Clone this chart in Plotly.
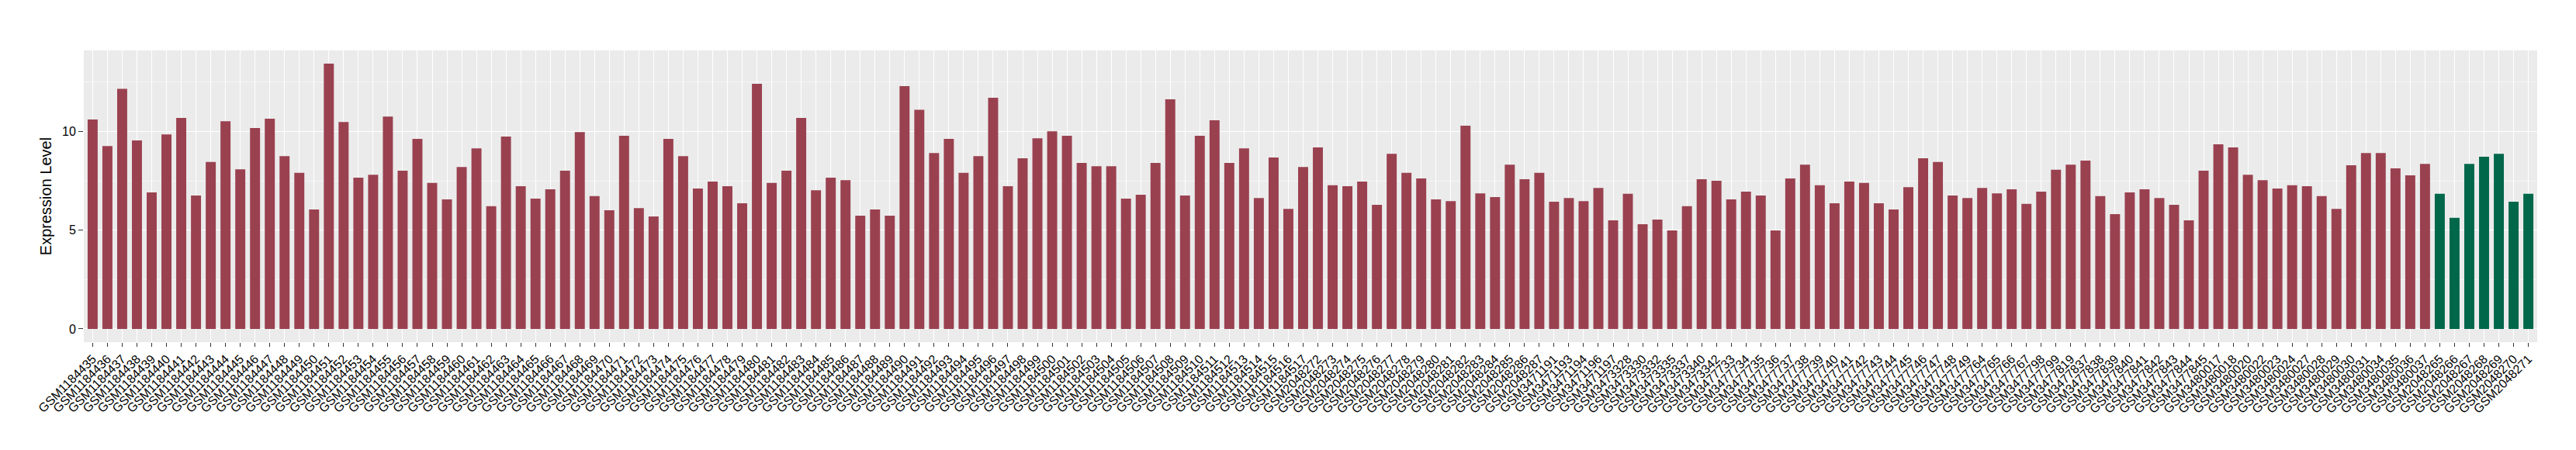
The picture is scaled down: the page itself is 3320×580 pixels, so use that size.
import plotly.graph_objects as go

samples_a = [f"GSM{n}" for n in range(1184435, 1184518)]
samples_b = [f"GSM{n}" for n in range(2048272, 2048288)]
samples_c = ["GSM3471191", "GSM3471193", "GSM3471194", "GSM3471196", "GSM3471197",
             "GSM3473328", "GSM3473330", "GSM3473332", "GSM3473335", "GSM3473337",
             "GSM3473340", "GSM3473342"]
samples_d = [f"GSM{n}" for n in range(3477733, 3477750)] + \
            ["GSM3477764", "GSM3477765", "GSM3477766", "GSM3477767", "GSM3477798",
             "GSM3477799", "GSM3477819"] + [f"GSM{n}" for n in range(3477837, 3477846)]
samples_e = ["GSM3480017", "GSM3480018", "GSM3480020", "GSM3480022", "GSM3480023",
             "GSM3480024", "GSM3480027", "GSM3480028", "GSM3480029", "GSM3480030",
             "GSM3480031", "GSM3480034", "GSM3480035", "GSM3480036", "GSM3480037"]
samples_ctrl = [f"GSM{n}" for n in range(2048265, 2048272)]

values_a = [10.60, 9.26, 12.16, 9.54, 6.91, 9.85, 10.68, 6.75, 8.45, 10.52,
            8.08, 10.17, 10.64, 8.75, 7.90, 6.05, 13.43, 10.48, 7.66, 7.81,
            10.75, 8.01, 9.62, 7.39, 6.56, 8.20, 9.14, 6.21, 9.74, 7.23,
            6.60, 7.07, 8.01, 9.97, 6.72, 6.01, 9.78, 6.12, 5.69, 9.62,
            8.75, 7.11, 7.46, 7.23, 6.36, 12.41, 7.39, 8.01, 10.68, 7.02,
            7.66, 7.53, 5.73, 6.05, 5.73, 12.29, 11.10, 8.91, 9.62, 7.90,
            8.75, 11.70, 7.23, 8.64, 9.65, 10.01, 9.78, 8.40, 8.24, 8.24,
            6.60, 6.79, 8.40, 11.63, 6.75, 9.78, 10.57, 8.40, 9.14, 6.63,
            8.68, 6.08, 8.20]
values_b = [9.19, 7.27, 7.23, 7.46, 6.28, 8.87, 7.90, 7.62, 6.56, 6.47,
            10.29, 6.86, 6.68, 8.32, 7.58, 7.90]
values_c = [6.44, 6.63, 6.47, 7.14, 5.50, 6.84, 5.30, 5.54, 4.99, 6.21, 7.58, 7.50]
values_d = [6.56, 6.95, 6.75, 4.99, 7.62, 8.32, 7.27, 6.36, 7.46, 7.39,
            6.36, 6.05, 7.18, 8.64, 8.45, 6.75, 6.63,
            7.14, 6.86, 7.07, 6.33, 6.95, 8.06, 8.32,
            8.52, 6.72, 5.81, 6.91, 7.07, 6.63, 6.28, 5.50, 8.01]
values_e = [9.35, 9.19, 7.81, 7.53, 7.11, 7.27, 7.23, 6.72, 6.08, 8.29,
            8.91, 8.91, 8.13, 7.78, 8.36]
values_ctrl = [6.84, 5.62, 8.36, 8.72, 8.87, 6.44, 6.84]

case_samples = samples_a + samples_b + samples_c + samples_d + samples_e
case_values = values_a + values_b + values_c + values_d + values_e

RED = "#9A4150"
GREEN = "#00674A"

categories = case_samples + samples_ctrl
vmax = max(case_values + values_ctrl)

fig = go.Figure()
fig.add_trace(go.Bar(x=case_samples, y=case_values, marker=dict(color=RED, line=dict(width=0)),
                     width=0.68, showlegend=False))
fig.add_trace(go.Bar(x=samples_ctrl, y=values_ctrl, marker=dict(color=GREEN, line=dict(width=0)),
                     width=0.68, showlegend=False))

fig.update_layout(
    width=3320, height=580,
    margin=dict(l=100, r=58, t=57, b=147),
    paper_bgcolor="white", plot_bgcolor="#EBEBEB",
    font=dict(family="Liberation Sans, Arial, sans-serif", color="black"),
    bargap=0.32,
    xaxis=dict(type="category", categoryorder="array", categoryarray=categories,
               range=[-0.6, len(categories) - 0.4],
               tickangle=-45, tickfont=dict(size=16, color="black"),
               showgrid=True, gridcolor="white", gridwidth=1.3,
               ticks="outside", ticklen=5, tickcolor="#333333", tickwidth=1.2,
               showline=False, zeroline=False, automargin=False),
    yaxis=dict(range=[-0.05 * vmax, 1.05 * vmax],
               tickvals=[0, 5, 10], ticktext=["0", "5", "10"],
               tickfont=dict(size=16, color="black"),
               showgrid=True, gridcolor="white", gridwidth=1.4,
               minor=dict(tickvals=[2.5, 7.5, 12.5], showgrid=True, gridcolor="#F5F5F5", gridwidth=0.7, ticks=""),
               ticks="outside", ticklen=6, tickcolor="#333333", tickwidth=1.2,
               zeroline=False, showline=False, automargin=False,
               title=dict(text="Expression Level", font=dict(size=20, color="black"), standoff=8)),
)

fig.write_html("out.html")
